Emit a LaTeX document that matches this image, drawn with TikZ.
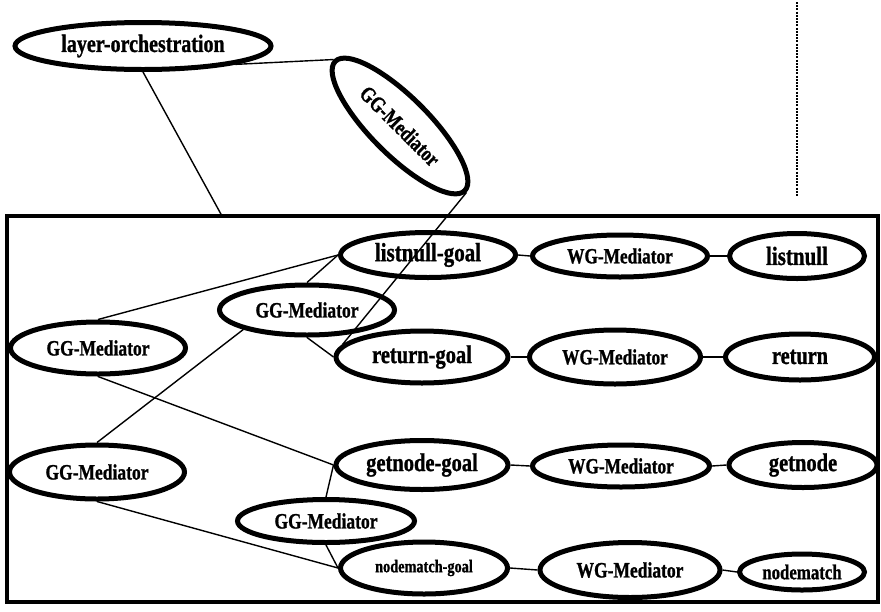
\documentclass[tikz,border=0pt]{standalone}
\usepackage{fontspec}
\setmainfont{Liberation Serif}[BoldFeatures={FakeBold=1.2}]
\usepackage{graphicx}
\usetikzlibrary{shapes.geometric}
% labels are set slightly stretched vertically
\newcommand{\tall}[1]{\scalebox{1}[1.25]{#1}}
\begin{document}
\begin{tikzpicture}[x=1pt,y=-1pt,
  oval/.style={ellipse, draw, line width=5pt, inner sep=0pt},
  ov/.style 2 args={oval, minimum width=#1, minimum height=#2},
  fs/.style={font=\bfseries\fontsize{#1}{#1}\selectfont},
  link/.style={line width=1.4pt},
  frame/.style={draw, line width=4pt, inner sep=0pt},
  guide/.style={line width=1.3pt, dash pattern=on 2pt off 1.2pt}
]
\useasboundingbox (0,0) rectangle (881,611);

% enclosing frame of the inner layer
\node[frame, minimum width=871pt, minimum height=386pt] (box) at (442.5,409) {};
\coordinate (entry) at (222,216);

% vertical guide at the top right
\coordinate (g-top) at (797,2);
\coordinate (g-bot) at (797,197);
\draw[guide] (g-top) -- (g-bot);

% outer layer
\node[ov={256pt}{47pt}, fs=20pt] (layer) at (143,46) {\tall{layer-orchestration}};
\node[ov={183pt}{58pt}, fs=17.5pt, rotate=-45] (top) at (400,126) {\tall{GG-Mediator}};

% goal-to-goal mediators
\node[ov={175pt}{52pt}, fs=17.5pt] (g1) at (98,348) {\tall{GG-Mediator}};
\node[ov={175pt}{50pt}, fs=17.5pt] (gm) at (307,310) {\tall{GG-Mediator}};
\node[ov={175pt}{54pt}, fs=17.5pt] (g2) at (97,472) {\tall{GG-Mediator}};
\node[ov={177pt}{43pt}, fs=17.5pt] (g3) at (326,521) {\tall{GG-Mediator}};

% row 1
\node[ov={175pt}{45pt}, fs=21pt] (lg) at (428,255) {\tall{listnull-goal}};
\node[ov={175pt}{42pt}, fs=17.3pt] (w1) at (620,256) {\tall{WG-Mediator}};
\node[ov={135pt}{45pt}, fs=21pt] (ln) at (797,256) {\tall{listnull}};
% row 2
\node[ov={172pt}{52pt}, fs=20.5pt] (rg) at (422,357) {\tall{return-goal}};
\node[ov={171pt}{54pt}, fs=17.3pt] (w2) at (615,357) {\tall{WG-Mediator}};
\node[ov={149pt}{46pt}, fs=20.3pt] (rt) at (800,357) {\tall{return}};
% row 3
\node[ov={172pt}{49pt}, fs=20.5pt] (gg) at (422,465) {\tall{getnode-goal}};
\node[ov={177pt}{42pt}, fs=17.3pt] (w3) at (621,466) {\tall{WG-Mediator}};
\node[ov={148pt}{45pt}, fs=20.5pt] (gn) at (803,465) {\tall{getnode}};
% row 4
\node[ov={167pt}{52pt}, fs=14.3pt] (ng) at (424,568) {\tall{nodematch-goal}};
\node[ov={180pt}{55pt}, fs=17.5pt] (w4) at (630,570) {\tall{WG-Mediator}};
\node[ov={125pt}{36pt}, fs=16.8pt] (nm) at (802,572) {\tall{nodematch}};

% connectors
\draw[link] (layer.south east) -- (top.west);
\draw[link] (layer.south) -- (entry);
\draw[link] (top.east) -- (rg.171);

\draw[link] (g1.north) -- (lg.west);
\draw[link] (gm.north) -- (lg.west);
\draw[link] (gm.south) -- (rg.west);
\draw[link] (gm.south west) -- (g2.north);
\draw[link] (g1.south) -- (gg.west);
\draw[link] (g2.south) -- (ng.west);
\draw[link] (g3.north) -- (gg.west);
\draw[link] (g3.south) -- (ng.west);

\draw[link] (lg.east) -- (w1.west);
\draw[link] (w1.east) -- (ln.west);
\draw[link] (rg.east) -- (w2.west);
\draw[link] (w2.east) -- (rt.west);
\draw[link] (gg.east) -- (w3.west);
\draw[link] (w3.east) -- (gn.west);
\draw[link] (ng.east) -- (w4.west);
\draw[link] (w4.east) -- (nm.west);
\end{tikzpicture}
\end{document}
